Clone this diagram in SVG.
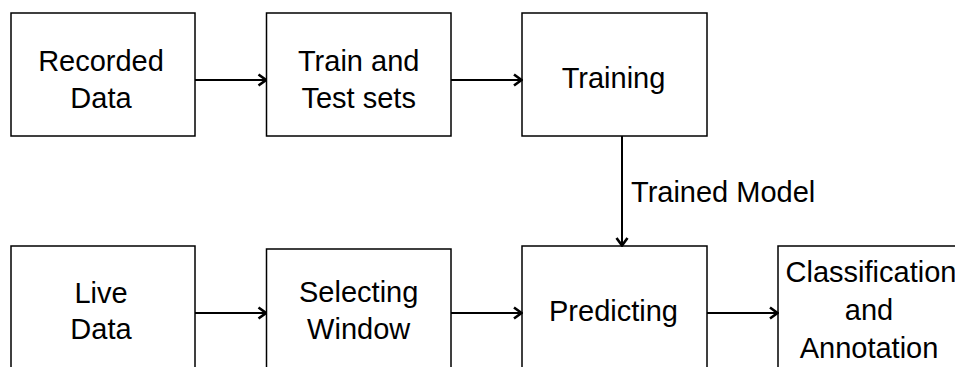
<svg xmlns="http://www.w3.org/2000/svg" width="955" height="367" viewBox="0 0 955 367">
<style>
.box{fill:#fff;stroke:#000;stroke-width:1.5}
.lbl{font-family:"Liberation Sans",Arial,sans-serif;font-size:29px;fill:#000;text-anchor:middle}
.edge{fill:none;stroke:#000;stroke-width:2}
.elbl{font-family:"Liberation Sans",Arial,sans-serif;font-size:29px;fill:#000}
</style>
<defs>
<marker id="arr" viewBox="0 0 10 14" refX="9" refY="7" markerWidth="10" markerHeight="14" markerUnits="userSpaceOnUse" orient="auto">
<path d="M1.5,1.5 L9,7 L1.5,12.5" fill="none" stroke="#000" stroke-width="2.6"/>
</marker>
</defs>
<rect width="955" height="367" fill="#fff"/>
<g id="recorded-data"><rect class="box" x="11" y="13" width="184" height="123"/><text class="lbl" x="101" y="71">Recorded</text><text class="lbl" x="101" y="108">Data</text></g>
<g id="train-test"><rect class="box" x="266.5" y="13" width="184.5" height="123"/><text class="lbl" x="358.7" y="71">Train and</text><text class="lbl" x="358.7" y="108">Test sets</text></g>
<g id="training"><rect class="box" x="522" y="13" width="185" height="123"/><text class="lbl" x="613.5" y="88">Training</text></g>
<g id="live-data"><rect class="box" x="11" y="246" width="184" height="123"/><text class="lbl" x="101" y="302.5">Live</text><text class="lbl" x="101" y="339">Data</text></g>
<g id="selecting-window"><rect class="box" x="266.5" y="249" width="184.5" height="123"/><text class="lbl" x="358.7" y="302">Selecting</text><text class="lbl" x="358.7" y="338.5">Window</text></g>
<g id="predicting"><rect class="box" x="522" y="246" width="185" height="123"/><text class="lbl" x="613.5" y="321">Predicting</text></g>
<g id="classification"><rect class="box" x="778" y="246" width="184" height="123"/><text class="lbl" x="871" y="282">Classification</text><text class="lbl" x="869" y="320">and</text><text class="lbl" x="869" y="357.5">Annotation</text></g>
<g id="connectors">
<path class="edge" d="M195,80 H266" marker-end="url(#arr)"/>
<path class="edge" d="M451,80 H521.5" marker-end="url(#arr)"/>
<path class="edge" d="M622,136 V245.5" marker-end="url(#arr)"/>
<text class="elbl" x="631" y="202">Trained Model</text>
<path class="edge" d="M195,313 H266" marker-end="url(#arr)"/>
<path class="edge" d="M451,313 H521.5" marker-end="url(#arr)"/>
<path class="edge" d="M707,313 H777.5" marker-end="url(#arr)"/>
</g>
</svg>
